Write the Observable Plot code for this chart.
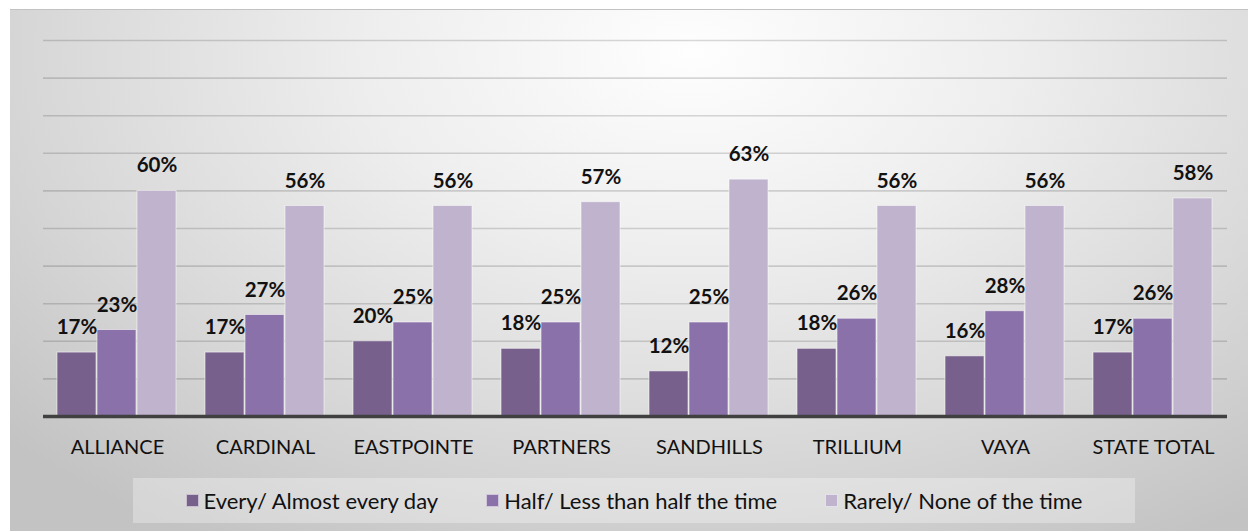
<!DOCTYPE html>
<html>
<head>
<meta charset="utf-8">
<script src="https://cdn.jsdelivr.net/npm/d3@7"></script>
<script src="https://cdn.jsdelivr.net/npm/@observablehq/plot@0.6"></script>
<style>
  html, body { margin: 0; padding: 0; background: #fff; }
  #wrap {
    position: absolute; left: 10px; top: 9px; width: 1238px; height: 522px;
    background: radial-gradient(ellipse 75% 110% at 55% 8%, #fefefe 0%, #eeeeee 35%, #d8d8d8 70%, #c3c3c3 100%);
    border-top: 1px solid #c2c2c2;
    box-sizing: border-box;
    font-family: Lato, "Open Sans", sans-serif;
  }
  #chart { position: absolute; left: 0; top: 0; }
  #legend {
    position: absolute; left: 123px; top: 468px; width: 1002px; height: 45px;
    background: rgba(255,255,255,0.3);
    display: flex; align-items: center; justify-content: center; gap: 48px;
    font-size: 22px; color: #111;
  }
  .item { display: flex; align-items: center; gap: 5px; white-space: nowrap; }
  .sw { width: 13px; height: 13px; box-sizing: border-box; border: 1px solid rgba(255,255,255,0.6); }
</style>
</head>
<body>
<div id="wrap">
  <div id="chart"></div>
  <div id="legend"></div>
</div>
<script>
const groups = ["ALLIANCE", "CARDINAL", "EASTPOINTE", "PARTNERS", "SANDHILLS", "TRILLIUM", "VAYA", "STATE TOTAL"];
const series = ["Every/ Almost every day", "Half/ Less than half the time", "Rarely/ None of the time"];
const every  = [17, 17, 20, 18, 12, 18, 16, 17];
const half   = [23, 27, 25, 25, 25, 26, 28, 26];
const rarely = [60, 56, 56, 57, 63, 56, 56, 58];
const colors = ["#77608c", "#8a71a9", "#bfb3cd"];
const gridTicks = [10, 20, 30, 40, 50, 60, 70, 80, 90, 100];

const valuesBySeries = [every, half, rarely];
const data = [];
groups.forEach((g, i) => {
  series.forEach((s, j) => data.push({group: g, series: s, value: valuesBySeries[j][i]}));
});

const chart = Plot.plot({
  width: 1238,
  height: 461,
  marginLeft: 30,
  marginRight: 18,
  marginTop: 30,
  marginBottom: 55,
  style: {background: "transparent", fontFamily: "Lato, 'Open Sans', sans-serif", fontSize: "20px", color: "#111", overflow: "visible"},
  fx: {domain: groups, padding: 0, label: null, tickSize: 0, tickPadding: 23, axis: "bottom"},
  x: {domain: series, paddingInner: 0.0244, paddingOuter: 0.326, axis: null},
  y: {domain: [0, 100], axis: null},
  color: {domain: series, range: colors},
  marks: [
    Plot.ruleY(gridTicks, {stroke: "#000", strokeOpacity: 0.15, strokeWidth: 1.6}),
    Plot.barY(data, {fx: "group", x: "series", y: "value", fill: "series", stroke: "#fff", strokeOpacity: 0.55, strokeWidth: 1}),
    Plot.text(data, {fx: "group", x: "series", y: "value", text: d => d.value + "%", dy: -25, fontWeight: "bold", fontSize: 20.5, fill: "#111"}),
    Plot.ruleY([0], {stroke: "#404040", strokeWidth: 3.5})
  ]
});
document.getElementById("chart").appendChild(chart);

const legend = document.getElementById("legend");
series.forEach((s, j) => {
  const item = document.createElement("div");
  item.className = "item";
  const sw = document.createElement("span");
  sw.className = "sw";
  sw.style.background = colors[j];
  const label = document.createElement("span");
  label.textContent = s;
  item.appendChild(sw);
  item.appendChild(label);
  legend.appendChild(item);
});
</script>
</body>
</html>
